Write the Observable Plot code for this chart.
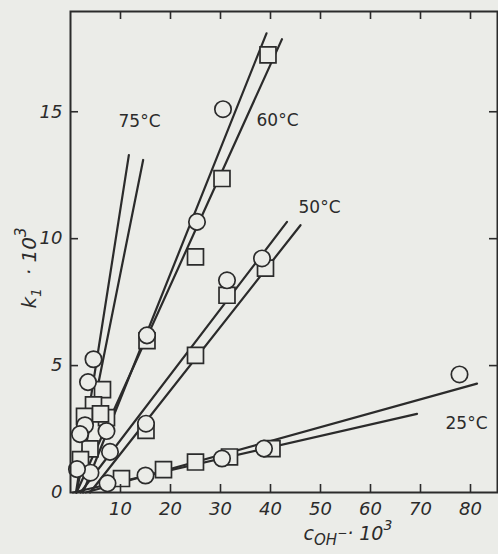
<!DOCTYPE html>
<html>
<head>
<meta charset="utf-8">
<script src="https://cdn.jsdelivr.net/npm/d3@7"></script>
<script src="https://cdn.jsdelivr.net/npm/@observablehq/plot@0.6"></script>
<style>
  html, body { margin: 0; padding: 0; background: #ebece8; }
  #chart { width: 498px; height: 554px; }
</style>
</head>
<body>
<div id="chart"></div>
<script>
// ---- data ----
const xTicks = [10, 20, 30, 40, 50, 60, 70, 80];
const yTicks = [0, 5, 10, 15];
const yInnerTicks = [5, 10, 15];

// circles and squares for each temperature: [c_OH·10^3, k1·10^3]
const circles25 = [[7.4, 0.36], [15, 0.67], [30.3, 1.34], [38.7, 1.73], [77.8, 4.65]];
const squares25 = [[10.2, 0.55], [18.6, 0.9], [25, 1.2], [31.8, 1.4], [40.3, 1.73]];
const circles50 = [[38.3, 9.22], [31.3, 8.36], [15.1, 2.71], [7.9, 1.6], [4.0, 0.78]];
const squares50 = [[39, 8.84], [31.3, 7.77], [25, 5.4], [15.1, 2.45], [3.9, 1.72]];
const circles60 = [[30.5, 15.1], [25.3, 10.66], [15.3, 6.19], [7.2, 2.42]];
const squares60 = [[39.5, 17.24], [30.3, 12.37], [25, 9.28], [15.3, 5.98], [7.2, 2.95]];
const circles75 = [[4.6, 5.25], [3.5, 4.35], [2.9, 2.65], [1.9, 2.3], [1.3, 0.92]];
const squares75 = [[6.4, 4.05], [4.6, 3.45], [2.8, 3.0], [2.0, 1.3], [6.0, 3.1]];

// fitted straight lines (endpoints)
const line25a = [[3, 0], [81.3, 4.29]];
const line25b = [[0.5, 0], [69.3, 3.1]];
const line50a = [[2.0, 0], [43.3, 10.66]];
const line50b = [[3.9, 0], [46, 10.53]];
const line60a = [[2.5, 0], [39.2, 18.09]];
const line60b = [[1.2, 0], [42.3, 17.86]];
const line75a = [[1.1, 0], [11.67, 13.29]];
const line75b = [[1.2, 0], [14.53, 13.1]];

const seriesLabels = ["75°C", "60°C", "50°C", "25°C"];
const labelPos = [[9.6, 14.6], [37.2, 14.67], [45.6, 11.24], [75, 2.72]];

// ---- build ----
const ink = "#2b2b2b";
const paper = "#ebece8";
const W = 498, H = 554;
const mt = 11, mr = 1, mb = 62, ml = 70;
const innerW = W - ml - mr, innerH = H - mt - mb;

const allCircles = [...circles25, ...circles50, ...circles60, ...circles75];
const allSquares = [...squares25, ...squares50, ...squares60, ...squares75];
const allLines = [line25a, line25b, line50a, line50b, line60a, line60b, line75a, line75b];
const labels = seriesLabels.map((t, i) => ({t, x: labelPos[i][0], y: labelPos[i][1]}));

const px = d => d[0], py = d => d[1];

const chart = Plot.plot({
  width: W, height: H,
  marginTop: mt, marginRight: mr, marginBottom: mb, marginLeft: ml,
  style: {background: paper, fontFamily: "DejaVu Sans, sans-serif", fontSize: "17px", color: ink},
  x: {domain: [0, 85.4], axis: null},
  y: {domain: [0, 18.95], axis: null},
  marks: [
    ...allLines.map(l => Plot.line(l, {x: px, y: py, stroke: ink, strokeWidth: 2.2})),
    Plot.dot(allSquares, {x: px, y: py, symbol: "square", r: 9, fill: paper, stroke: ink, strokeWidth: 1.7}),
    Plot.dot(allCircles, {x: px, y: py, symbol: "circle", r: 8.2, fill: paper, stroke: ink, strokeWidth: 1.7}),
    // inward ticks
    Plot.ruleX(xTicks, {x: d => d, insetTop: innerH - 8, stroke: ink, strokeWidth: 1.6}),
    Plot.ruleX(xTicks, {x: d => d, insetBottom: innerH - 8, stroke: ink, strokeWidth: 1.6}),
    Plot.ruleY(yInnerTicks, {y: d => d, insetRight: innerW - 8, stroke: ink, strokeWidth: 1.6}),
    Plot.ruleY(yInnerTicks, {y: d => d, insetLeft: innerW - 8, stroke: ink, strokeWidth: 1.6}),
    Plot.frame({stroke: ink, strokeWidth: 2}),
    // tick labels
    Plot.text(xTicks, {x: d => d, y: 0, dy: 17, text: d => String(d), fill: ink, fontStyle: "italic", fontSize: 18}),
    Plot.text(yTicks, {x: 0, y: d => d, dx: -8, textAnchor: "end", text: d => String(d), fill: ink, fontStyle: "italic", fontSize: 18}),
    // series labels
    Plot.text(labels, {x: "x", y: "y", text: "t", textAnchor: "start", fill: ink, fontSize: 17})
  ]
});
document.getElementById("chart").appendChild(chart);

// axis titles with sub/superscripts
const svg = d3.select(chart);
const yt = svg.append("text")
  .attr("transform", "translate(36,268) rotate(-90)")
  .attr("text-anchor", "middle")
  .attr("fill", ink).attr("font-size", 20).attr("font-style", "italic")
  .attr("font-family", "DejaVu Sans, sans-serif");
yt.append("tspan").text("k");
yt.append("tspan").attr("font-size", 14).attr("dy", 5).text("1");
yt.append("tspan").attr("dy", -5).text("  \u00B7 10");
yt.append("tspan").attr("font-size", 15).attr("dy", -10).text("3");

const xt = svg.append("text")
  .attr("x", 348).attr("y", 540)
  .attr("text-anchor", "middle")
  .attr("fill", ink).attr("font-size", 19).attr("font-style", "italic")
  .attr("font-family", "DejaVu Sans, sans-serif");
xt.append("tspan").text("c");
xt.append("tspan").attr("font-size", 15).attr("dy", 5).text("OH");
xt.append("tspan").attr("font-size", 12).attr("dy", -8).text("\u2212");
xt.append("tspan").attr("dy", 3).text("\u00B7 10");
xt.append("tspan").attr("font-size", 14).attr("dy", -10).text("3");
</script>
</body>
</html>
